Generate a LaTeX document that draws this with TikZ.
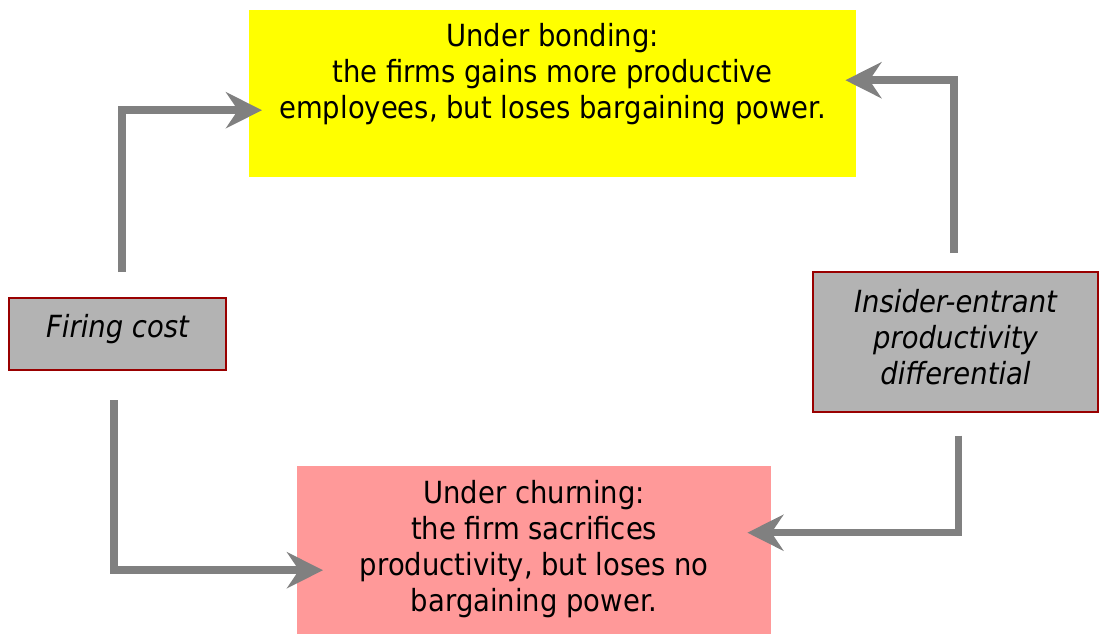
\documentclass[tikz,border=0pt]{standalone}
\usepackage{fontspec}
\setmainfont{DejaVu Sans}[FakeStretch=0.9]
\usetikzlibrary{arrows.meta}
\definecolor{boxgray}{HTML}{B3B3B3}
\definecolor{boxred}{HTML}{990000}
\definecolor{pinkbox}{HTML}{FF9999}
\definecolor{boxyellow}{HTML}{FFFF00}
\definecolor{arrowgray}{HTML}{808080}
\tikzset{
  txt/.style={font=\fontsize{30.5}{36}\selectfont, align=center, inner sep=0pt},
  ittxt/.style={txt, font=\fontsize{30.5}{36}\selectfont\itshape},
  factor/.style={draw=boxred, line width=2pt, fill=boxgray, inner sep=0pt, anchor=north west},
  outcome/.style={inner sep=0pt, anchor=north west},
  conn/.style={draw=arrowgray, line width=7.5pt,
    -{Stealth[length=36pt,width=36pt,inset=12pt]}},
}
\begin{document}
\begin{tikzpicture}[x=1pt,y=-1pt]
\useasboundingbox (0,0) rectangle (1099,635);
\node[outcome, fill=boxyellow, minimum width=607pt, minimum height=167pt] (bond) at (249,10) {};
\node[txt, anchor=north] (bondtxt) at ([yshift=-13pt]bond.north) {Under bonding:\\the firms gains more productive\\employees, but loses bargaining power.};
\node[outcome, fill=pinkbox, minimum width=474pt, minimum height=168pt] (churn) at (297,466) {};
\node[txt] (churntxt) at ([yshift=1pt]churn.center) {Under churning:\\the firm sacrifices\\productivity, but loses no\\bargaining power.};
\node[factor, minimum width=217pt, minimum height=72pt] (fire) at (8,297) {};
\node[ittxt] (firetxt) at ([yshift=5pt]fire.center) {Firing cost};
\node[factor, minimum width=285pt, minimum height=140pt] (ins) at (812,271) {};
\node[ittxt] (instxt) at ([yshift=5pt]ins.center) {Insider-entrant\\productivity\\differential};
\draw[conn] ([xshift=4.5pt,yshift=25pt]fire.north) |- ([xshift=13pt,yshift=-16.5pt]bond.west);
\draw[conn] ([xshift=-3.5pt,yshift=-29pt]fire.south) |- ([xshift=26pt,yshift=-20pt]churn.west);
\draw[conn] ([xshift=-1.5pt,yshift=18pt]ins.north) |- ([xshift=-11pt,yshift=13.5pt]bond.east);
\draw[conn] ([xshift=3pt,yshift=-22.5pt]ins.south) |- ([xshift=-24pt,yshift=17.5pt]churn.east);
\end{tikzpicture}
\end{document}
